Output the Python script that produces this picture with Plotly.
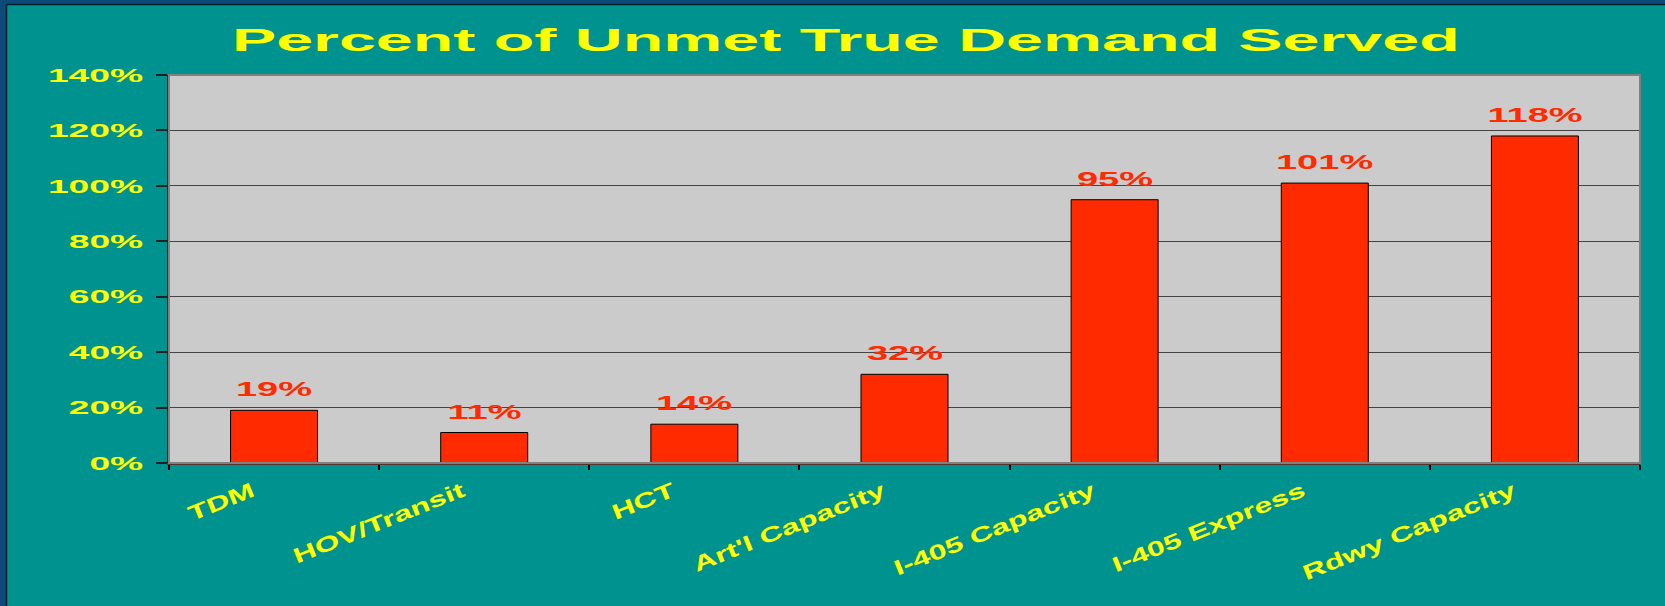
import plotly.graph_objects as go

categories = ["TDM", "HOV/Transit", "HCT", "Art'l Capacity", "I-405 Capacity", "I-405 Express", "Rdwy Capacity"]
values = [19, 11, 14, 32, 95, 101, 118]
y_ticks = [0, 20, 40, 60, 80, 100, 120, 140]
title_text = "Percent of Unmet True Demand Served"

W, H = 1665, 606
L, R, T, B = 169, 25, 75, 143
pw, ph = W - L - R, H - T - B

TEAL = "#00928F"
RED = "#FF2A00"
YELLOW = "#FFFF00"
FONT = "Liberation Sans"

fig = go.Figure()
fig.add_trace(go.Bar(
    x=categories, y=values,
    marker=dict(color=RED, line=dict(color="#000000", width=1)),
    hoverinfo="skip",
))

annotations = []
for c, v in zip(categories, values):
    annotations.append(dict(
        x=c, y=v, xref="x", yref="y", text=f"{v}%", showarrow=False,
        yanchor="bottom", xanchor="center", yshift=8,
        font=dict(family=FONT, size=20, color=RED, weight="bold"),
    ))

def px_x(p):
    return (p - L) / pw

def px_y(p):
    return (H - B - p) / ph

shapes = [
    dict(type="rect", xref="x domain", yref="y domain", x0=0, x1=1, y0=0, y1=1,
         line=dict(color="#808080", width=2), fillcolor="rgba(0,0,0,0)", layer="above"),
    dict(type="rect", xref="paper", yref="paper", x0=px_x(0), x1=px_x(6), y0=px_y(606), y1=px_y(0),
         line=dict(width=0), fillcolor="#0d4a7a", layer="below"),
    dict(type="rect", xref="paper", yref="paper", x0=px_x(0), x1=px_x(1665), y0=px_y(4), y1=px_y(0),
         line=dict(width=0), fillcolor="#0d4a7a", layer="below"),
    dict(type="line", xref="paper", yref="paper", x0=px_x(6.5), x1=px_x(6.5), y0=px_y(606), y1=px_y(4.5),
         line=dict(color="#02202a", width=1.5), layer="below"),
    dict(type="line", xref="paper", yref="paper", x0=px_x(6.5), x1=px_x(1665), y0=px_y(4.5), y1=px_y(4.5),
         line=dict(color="#02202a", width=1.5), layer="below"),
]

fig.update_layout(
    width=W, height=H,
    margin=dict(l=L, r=R, t=T, b=B, pad=0),
    paper_bgcolor=TEAL,
    plot_bgcolor="#CBCBCB",
    showlegend=False,
    bargap=0.586,
    title=dict(
        text=title_text, x=0.508, xanchor="center", y=1 - 40 / H, yanchor="middle",
        xref="container", yref="container",
        font=dict(family=FONT, size=31, color=YELLOW, weight="bold"),
    ),
    annotations=annotations,
    shapes=shapes,
    xaxis=dict(
        type="category",
        range=[-0.5, len(categories) - 0.5],
        showgrid=False,
        showline=True, linecolor="#553333", linewidth=2,
        ticks="outside", tickson="boundaries", ticklen=5, tickwidth=2, tickcolor="#000000",
        tickangle=-22,
        tickfont=dict(family=FONT, size=21, color=YELLOW, weight="bold"),
        ticklabelstandoff=6,
        ticklabelshift=-22,
        zeroline=False,
    ),
    yaxis=dict(
        range=[0, 140],
        tickvals=y_ticks,
        ticktext=[f"{t}%" for t in y_ticks],
        showgrid=True, gridcolor="#444444", gridwidth=1,
        showline=True, linecolor="#222222", linewidth=2,
        ticks="outside", ticklen=11, tickwidth=2, tickcolor="#222222",
        tickfont=dict(family=FONT, size=19, color=YELLOW, weight="bold"),
        ticklabelstandoff=9,
        zeroline=False,
    ),
)

post = """
var s=document.createElement('style');
s.textContent='html,body{margin:0;padding:0;overflow:hidden}';
document.head.appendChild(s);
function stretch(sel, k){
  document.querySelectorAll(sel).forEach(function(el){
    var w = el.getComputedTextLength();
    el.setAttribute('textLength', (w*k).toFixed(1));
    el.setAttribute('lengthAdjust','spacingAndGlyphs');
  });
}
stretch('.gtitle', 2.14);
stretch('.yaxislayer-above text', 1.96);
stretch('.annotation-text', 1.9);
stretch('.xaxislayer-above text', 1.52);
"""

fig.write_html("out.html", post_script=post, config={"displayModeBar": False})
